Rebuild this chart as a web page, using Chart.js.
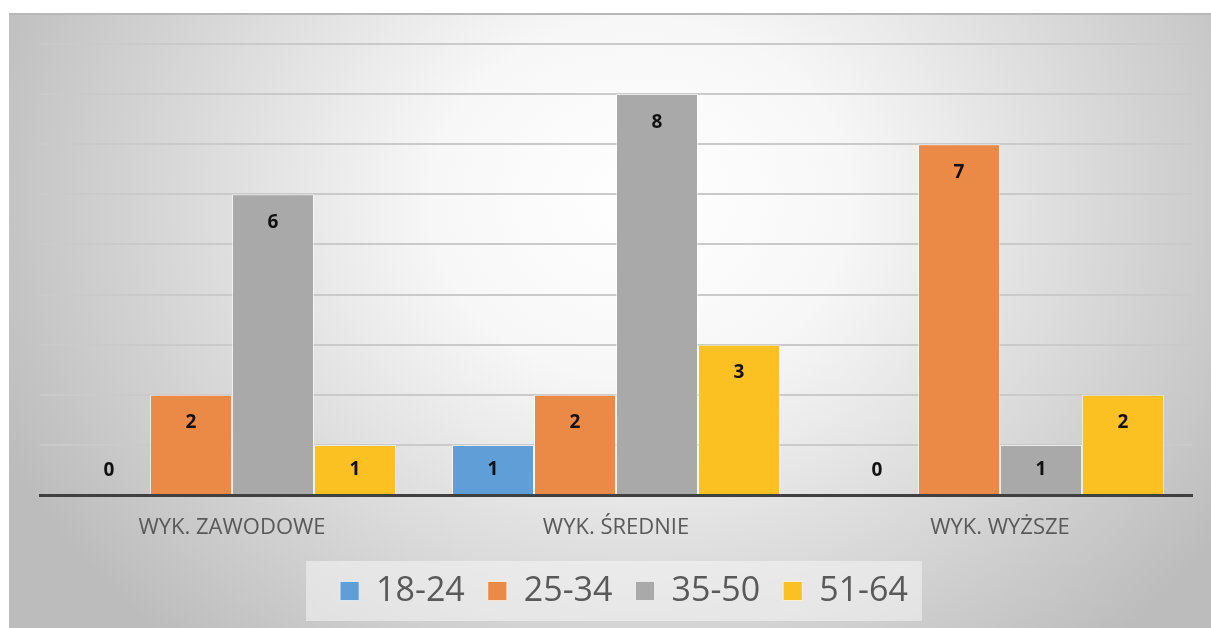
<!DOCTYPE html>
<html>
<head>
<meta charset="utf-8">
<script src="https://cdn.jsdelivr.net/npm/chart.js@4"></script>
<style>
  html, body { margin: 0; padding: 0; background: #fff; }
  #wrap { width: 1211px; height: 628px; }
</style>
</head>
<body>
<div id="wrap"><canvas id="myChart"></canvas></div>
<script>
const categories = ['WYK. ZAWODOWE', 'WYK. ŚREDNIE', 'WYK. WYŻSZE'];
const ageGroups = ['18-24', '25-34', '35-50', '51-64'];
const age18to24 = [0, 1, 0];
const age25to34 = [2, 2, 7];
const age35to50 = [6, 8, 1];
const age51to64 = [1, 3, 2];
const barColors = ['#609ED8', '#EB8946', '#A9A9A9', '#FBC123'];

// soft radial fill behind the whole chart
const panelBackground = {
    id: 'panelBackground',
    afterLayout(chart) {
        // nudge the legend row a little to the right
        const lg = chart.legend;
        const dx = 8;
        lg.left += dx;
        lg.right += dx;
        (lg.legendHitBoxes || []).forEach(b => { b.left += dx; });
    },
    beforeDraw(chart) {
        const ctx = chart.ctx;
        const w = chart.width, h = chart.height;
        ctx.save();
        ctx.fillStyle = '#ffffff';
        ctx.fillRect(0, 0, w, h);

        const cx = 640, cy = 200, rx = 700, ry = 600;
        ctx.save();
        ctx.translate(cx, cy);
        ctx.scale(1, ry / rx);
        const g = ctx.createRadialGradient(0, 0, 0, 0, 0, rx);
        g.addColorStop(0, '#ffffff');
        g.addColorStop(0.3, '#f7f7f7');
        g.addColorStop(1, '#bcbcbc');
        ctx.fillStyle = g;
        const k = rx / ry;
        ctx.fillRect(9 - cx, (13 - cy) * k, w - 9, (h - 13) * k);
        ctx.restore();

        ctx.fillStyle = '#b8b8b8';
        ctx.fillRect(9, 13, w - 9, 2);

        // legend panel
        const boxes = chart.legend.legendHitBoxes;
        if (boxes && boxes.length) {
            const first = boxes[0], last = boxes[boxes.length - 1];
            const x0 = first.left - 34;
            const x1 = last.left + last.width + 14;
            const yc = first.top + first.height / 2;
            ctx.fillStyle = 'rgba(245,245,245,0.55)';
            ctx.fillRect(x0, yc - 30, x1 - x0, 60);
        }
        ctx.restore();
    }
};

// value labels inside the top of each bar
const barValueLabels = {
    id: 'barValueLabels',
    afterDatasetsDraw(chart) {
        const ctx = chart.ctx;
        ctx.save();
        ctx.font = 'bold 19px "Open Sans"';
        ctx.fillStyle = '#111111';
        ctx.textAlign = 'center';
        ctx.textBaseline = 'middle';
        chart.data.datasets.forEach((ds, i) => {
            chart.getDatasetMeta(i).data.forEach((bar, j) => {
                const y = Math.min(bar.y + 28, bar.base - 24);
                ctx.fillText(ds.data[j], bar.x, y);
            });
        });
        ctx.restore();
    }
};

function makeDataset(label, data, color) {
    return {
        label: label,
        data: data,
        backgroundColor: color,
        borderColor: 'rgba(255,255,255,0.6)',
        borderWidth: 1,
        categoryPercentage: 0.854,
        barPercentage: 1.0
    };
}

function displayChart() {
    const ctx = document.getElementById('myChart');
    new Chart(ctx, {
        type: 'bar',
        data: {
            labels: categories,
            datasets: [
                makeDataset(ageGroups[0], age18to24, barColors[0]),
                makeDataset(ageGroups[1], age25to34, barColors[1]),
                makeDataset(ageGroups[2], age35to50, barColors[2]),
                makeDataset(ageGroups[3], age51to64, barColors[3])
            ]
        },
        options: {
            responsive: true,
            maintainAspectRatio: false,
            animation: false,
            layout: {
                padding: { left: 40, right: 19, top: 44, bottom: 10 }
            },
            scales: {
                x: {
                    grid: { display: false },
                    border: { color: '#404040', width: 3 },
                    ticks: {
                        color: '#595959',
                        font: { family: '"Open Sans"', size: 22 },
                        padding: 12
                    },
                    afterFit(scale) {
                        scale.height = 56;
                    }
                },
                y: {
                    min: 0,
                    max: 9,
                    ticks: { display: false, stepSize: 1 },
                    grid: { color: '#cacaca', lineWidth: 2, drawTicks: false },
                    border: { display: false }
                }
            },
            plugins: {
                legend: {
                    position: 'bottom',
                    labels: {
                        color: '#595959',
                        font: { family: '"Open Sans"', size: 34 },
                        boxWidth: 19,
                        boxHeight: 19,
                        padding: 23
                    }
                },
                tooltip: { enabled: false }
            }
        },
        plugins: [panelBackground, barValueLabels]
    });
}

document.addEventListener('DOMContentLoaded', () => {
    displayChart();
});
</script>
</body>
</html>
